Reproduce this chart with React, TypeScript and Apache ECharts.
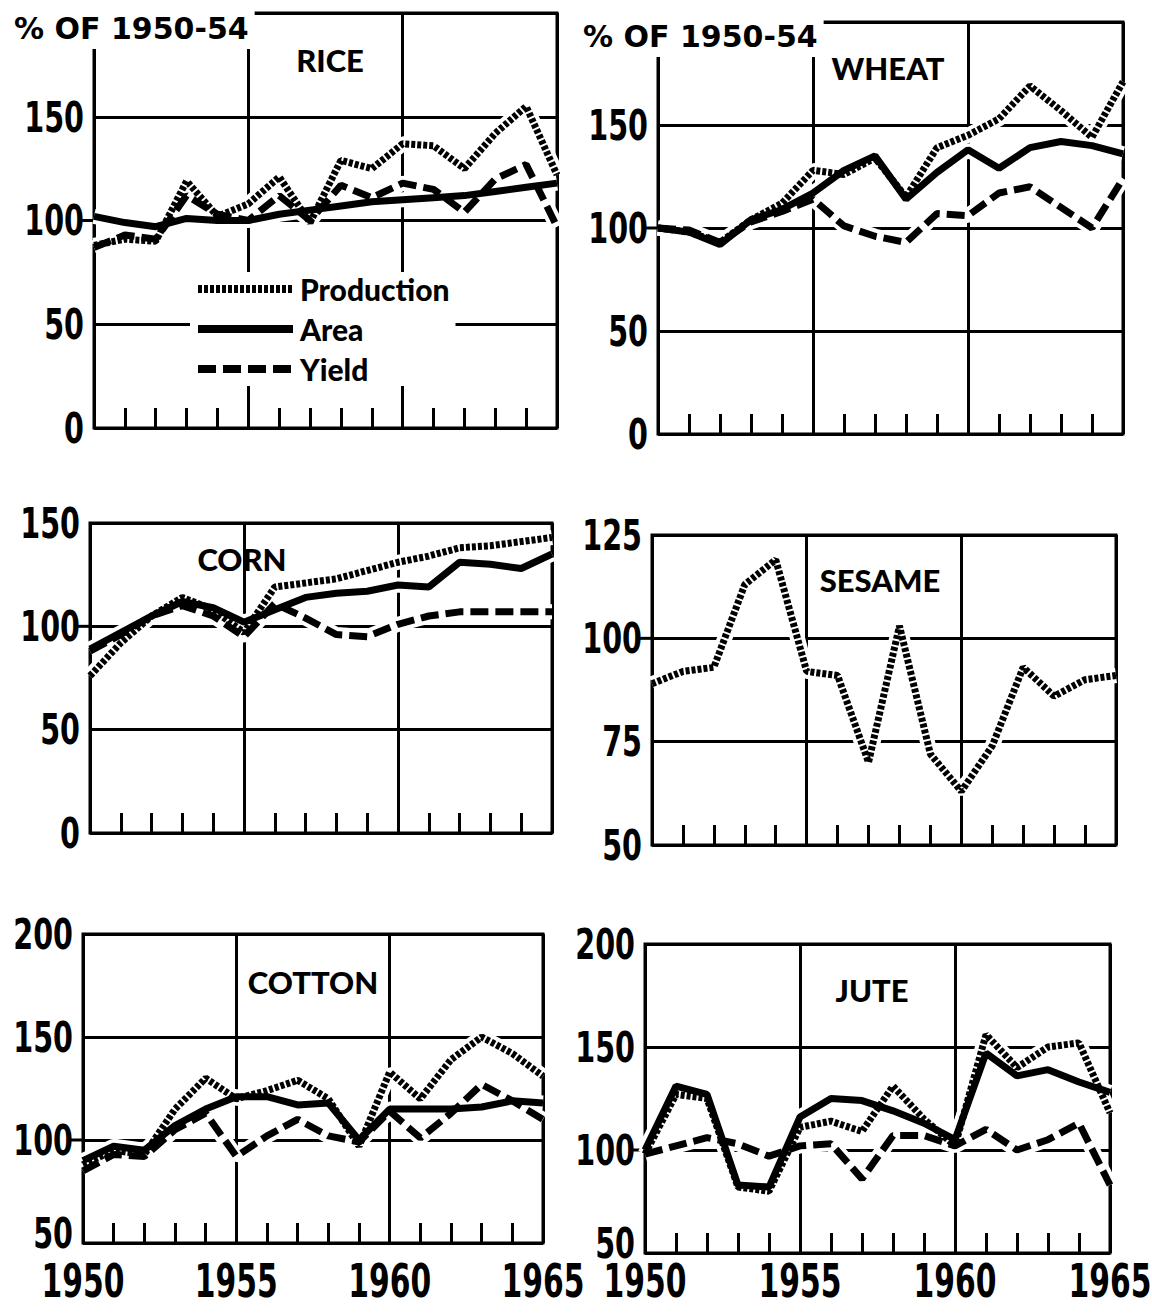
import React, { useEffect, useRef } from "react";
import * as echarts from "echarts";

// ---------- DATA ----------
const years = [1950, 1951, 1952, 1953, 1954, 1955, 1956, 1957, 1958, 1959, 1960, 1961, 1962, 1963, 1964, 1965];
const xTickLabels = [1950, 1955, 1960, 1965];
const seriesNames = ["Production", "Area", "Yield"];
const panelTitles = ["RICE", "WHEAT", "CORN", "SESAME", "COTTON", "JUTE"];
const unitLabel = "% OF 1950-54";

const riceProduction = [88, 91, 90, 119, 102, 108, 121, 99, 129, 125, 137, 136, 125, 142, 155, 122];
const riceArea = [102, 99, 97, 101, 100, 100, 103, 105, 107, 109, 110, 111, 112, 114, 116, 118];
const riceYield = [87, 93, 91, 112, 103, 100, 112, 100, 117, 111, 118, 115, 104, 120, 127, 97];

const wheatProduction = [100, 98, 93, 104, 112, 128, 126, 134, 115, 139, 145, 153, 169, 157, 144, 171];
const wheatArea = [100, 98, 92, 104, 109, 117, 128, 135, 114, 127, 138, 129, 139, 142, 140, 136];
const wheatYield = [100, 99, 93, 103, 108, 114, 101, 96, 93, 107, 106, 117, 120, 110, 100, 124];

const cornProduction = [76, 92, 105, 114, 108, 97, 119, 121, 123, 127, 131, 134, 138, 139, 141, 143];
const cornArea = [89, 97, 105, 112, 109, 102, 108, 114, 116, 117, 120, 119, 131, 130, 128, 135];
const cornYield = [88, 96, 105, 110, 105, 95, 111, 104, 96, 95, 101, 105, 107, 107, 107, 107];

const sesameProduction = [89, 92, 93, 113, 119, 92, 91, 70, 103, 72, 63, 74, 93, 86, 90, 91];

const cottonProduction = [88, 95, 93, 115, 130, 120, 124, 129, 120, 97, 133, 120, 139, 150, 142, 131];
const cottonArea = [90, 97, 95, 107, 115, 121, 121, 117, 118, 100, 115, 115, 115, 116, 119, 118];
const cottonYield = [85, 93, 92, 105, 113, 92, 102, 110, 102, 99, 114, 101, 113, 127, 119, 110];

const juteProduction = [98, 127, 125, 82, 80, 111, 114, 109, 131, 115, 102, 156, 140, 150, 152, 118];
const juteArea = [100, 131, 127, 83, 82, 116, 125, 124, 119, 113, 105, 147, 136, 139, 133, 128];
const juteYield = [98, 102, 106, 103, 97, 102, 103, 86, 107, 107, 102, 110, 100, 105, 113, 83];

// y-axis scales per panel: [min, max, interval]
const yScales = [
  [0, 200, 50],
  [0, 200, 50],
  [0, 150, 50],
  [50, 125, 25],
  [50, 200, 50],
  [50, 200, 50],
];
// y tick labels shown per panel
const yTickLabels = [
  [0, 50, 100, 150],
  [0, 50, 100, 150],
  [0, 50, 100, 150],
  [50, 75, 100, 125],
  [50, 100, 150, 200],
  [50, 100, 150, 200],
];

const panelData = [
  [riceProduction, riceArea, riceYield],
  [wheatProduction, wheatArea, wheatYield],
  [cornProduction, cornArea, cornYield],
  [sesameProduction, null, null],
  [cottonProduction, cottonArea, cottonYield],
  [juteProduction, juteArea, juteYield],
];

// ---------- LAYOUT / STYLE ----------
const gridRects = [
  { left: 94, top: 13, width: 463, height: 415 },
  { left: 658, top: 22, width: 465, height: 412 },
  { left: 90, top: 523, width: 462, height: 310 },
  { left: 652, top: 535, width: 464, height: 310 },
  { left: 83, top: 934, width: 460, height: 309 },
  { left: 645, top: 944, width: 465, height: 309 },
];
const titlePos = [
  [330, 60],
  [888, 68],
  [242, 559],
  [880, 580],
  [313, 982],
  [872, 990],
];
const unitLabelPos = [
  [12, 11],
  [581, 19],
];
const xLabelY = 1281;

const FONT_NUM = "'DejaVu Sans Condensed', 'DejaVu Sans', sans-serif";
const FONT_TITLE = "Lato, 'DejaVu Sans', sans-serif";
const FONT_UNIT = "'DejaVu Sans', sans-serif";

const lineStyles = [
  { color: "#000", width: 7, type: [4, 2] },
  { color: "#000", width: 7, type: "solid" },
  { color: "#000", width: 7, type: [18, 7] },
];

function buildOption() {
  const grid = gridRects.map((r) => ({
    ...r,
    show: true,
    borderColor: "#000",
    borderWidth: 3,
    backgroundColor: "transparent",
  }));

  const xAxis = gridRects.map((_, i) => ({
    gridIndex: i,
    type: "value",
    min: 1950,
    max: 1965,
    interval: 5,
    axisLine: { show: false },
    axisTick: { show: false, inside: true },
    minorTick: { show: true, splitNumber: 5, length: 20, lineStyle: { color: "#000", width: 3 } },
    splitLine: { show: true, lineStyle: { color: "#000", width: 3 } },
    axisLabel: { show: false },
  }));

  const yAxis = gridRects.map((_, i) => ({
    gridIndex: i,
    type: "value",
    min: yScales[i][0],
    max: yScales[i][1],
    interval: yScales[i][2],
    axisLine: { show: false },
    axisTick: { show: false },
    splitLine: { show: true, lineStyle: { color: "#000", width: 3 } },
    axisLabel: { show: false },
  }));

  const series: any[] = [];
  panelData.forEach((arrs, i) => {
    arrs.forEach((arr, k) => {
      if (!arr) return;
      const data = years.map((y, j) => [y, arr[j]]);
      series.push({
        type: "line",
        name: "halo-" + i + "-" + k,
        xAxisIndex: i,
        yAxisIndex: i,
        data,
        symbol: "none",
        silent: true,
        z: 2,
        lineStyle: { color: "#fff", width: 15 },
      });
    });
    arrs.forEach((arr, k) => {
      if (!arr) return;
      const data = years.map((y, j) => [y, arr[j]]);
      series.push({
        type: "line",
        name: seriesNames[k],
        xAxisIndex: i,
        yAxisIndex: i,
        data,
        symbol: "none",
        silent: true,
        z: 3,
        color: "#000",
        itemStyle: { color: "#000" },
        lineStyle: { ...lineStyles[k] },
      });
    });
  });

  const graphic: any[] = [];
  panelTitles.forEach((t, i) => {
    graphic.push({
      type: "text",
      x: titlePos[i][0],
      y: titlePos[i][1],
      z: 10,
      style: {
        text: t,
        fill: "#000",
        font: `900 31px ${FONT_TITLE}`,
        textAlign: "center",
        textVerticalAlign: "middle",
      },
    });
  });
  unitLabelPos.forEach((p) => {
    graphic.push({
      type: "text",
      x: p[0],
      y: p[1],
      z: 10,
      style: {
        text: unitLabel,
        fill: "#000",
        font: `bold 30px ${FONT_UNIT}`,
        textAlign: "left",
        textVerticalAlign: "top",
        backgroundColor: "#fff",
        padding: [2, 6, 6, 2],
      },
    });
  });

  return {
    animation: false,
    backgroundColor: "#fff",
    grid,
    xAxis,
    yAxis,
    series,
    legend: {
      data: seriesNames,
      orient: "vertical",
      left: 190,
      top: 272,
      itemWidth: 95,
      itemHeight: 16,
      itemGap: 10,
      selectedMode: false,
      backgroundColor: "#fff",
      padding: [2, 6, 2, 4],
      z: 10,
      itemStyle: { opacity: 0 },
      lineStyle: { width: 8 },
      textStyle: { fontSize: 30, fontWeight: 900, fontFamily: FONT_TITLE, color: "#000", padding: [0, 0, 0, 2] },
    },
    graphic,
  };
}

function buildTickGraphics(chart: any) {
  const out: any[] = [];
  gridRects.forEach((_, i) => {
    // extension of the 100 line to the left of each panel
    const p100 = chart.convertToPixel({ gridIndex: i }, [1950, 100]) as number[];
    out.push({
      type: "line",
      z: 1,
      shape: { x1: p100[0] - 14, y1: p100[1], x2: p100[0], y2: p100[1] },
      style: { stroke: "#000", lineWidth: 3 },
    });
    // y tick labels
    yTickLabels[i].forEach((v) => {
      const p = chart.convertToPixel({ gridIndex: i }, [1950, v]) as number[];
      const shiftUp = i >= 4 && v === yScales[i][0] ? 10 : 0;
      out.push({
        type: "text",
        z: 12,
        x: p[0] - 10,
        y: p[1] - shiftUp,
        scaleX: 0.74,
        style: {
          text: String(v),
          fill: "#000",
          font: `bold 43px ${FONT_NUM}`,
          textAlign: "right",
          textVerticalAlign: "middle",
        },
      });
    });
    // x tick labels on the bottom row
    if (i >= 4) {
      xTickLabels.forEach((v) => {
        const p = chart.convertToPixel({ gridIndex: i }, [v, yScales[i][0]]) as number[];
        out.push({
          type: "text",
          z: 12,
          x: p[0],
          y: xLabelY,
          scaleX: 0.72,
          style: {
            text: String(v),
            fill: "#000",
            font: `bold 46px ${FONT_NUM}`,
            textAlign: "center",
            textVerticalAlign: "middle",
          },
        });
      });
    }
  });
  return out;
}

export default function App() {
  const ref = useRef<HTMLDivElement>(null);
  useEffect(() => {
    if (!ref.current) return;
    const chart = echarts.init(ref.current, null, { renderer: "svg" });
    const option: any = buildOption();
    chart.setOption(option);
    const extra = buildTickGraphics(chart);
    chart.setOption({ graphic: [...option.graphic, ...extra] });
    return () => chart.dispose();
  }, []);
  return (
    <div
      ref={ref}
      style={{ position: "absolute", left: 0, top: 0, width: 1152, height: 1313, background: "#fff" }}
    />
  );
}
